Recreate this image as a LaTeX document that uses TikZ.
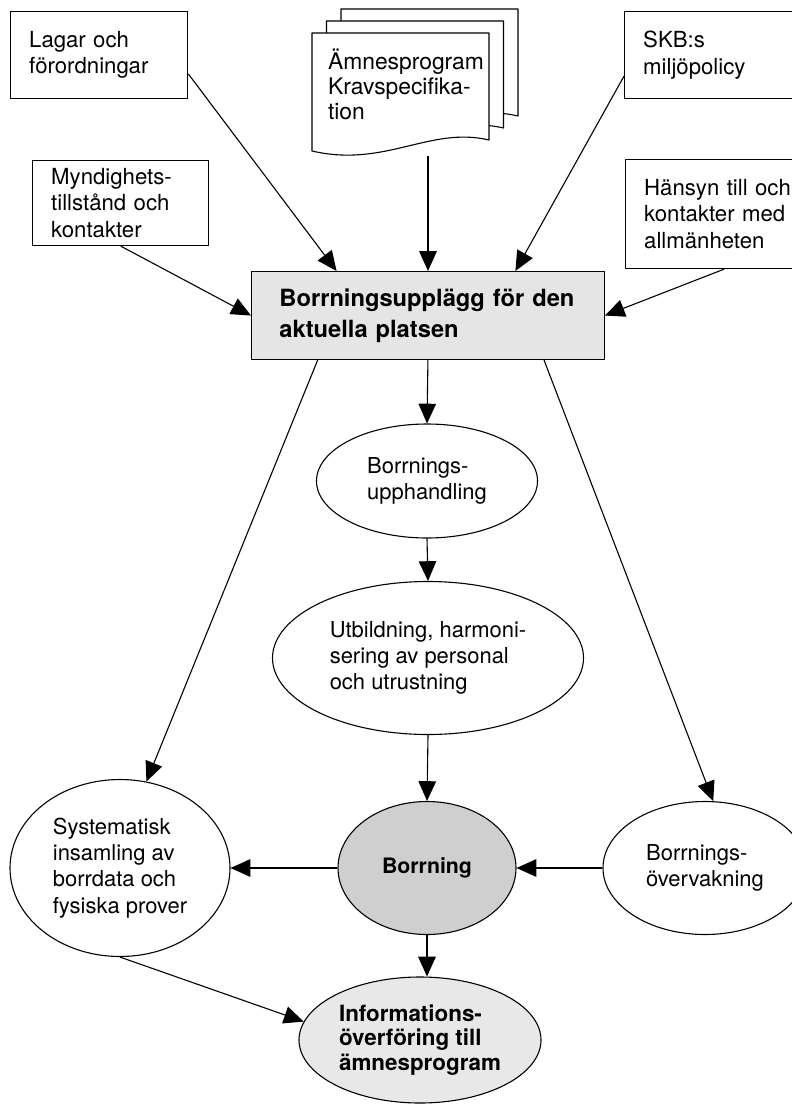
\documentclass[tikz,border=0pt]{standalone}
\usepackage{fontspec}
\setmainfont{TeX Gyre Heros}
\usetikzlibrary{arrows.meta,shapes.geometric}

\newcommand\pxu{0.016cm}
\tikzset{
  box/.style={draw, rectangle, anchor=north west, align=left, inner xsep=8.5pt,
    font=\fontsize{10.1}{12}\selectfont},
  oval/.style={draw, ellipse, inner sep=0pt, align=left,
    font=\fontsize{10}{12}\selectfont},
  boldoval/.style={oval, font=\fontsize{9.7}{11}\selectfont\bfseries},
  pil/.style={-{Triangle[length=9pt,width=8pt]}},
}

\begin{document}
\begin{tikzpicture}[x=\pxu, y=-\pxu, line width=0.5pt, line join=round]
  \useasboundingbox (0,0) rectangle (792,1107);

  % input boxes
  \node[box, text width=140*\pxu, minimum height=87*\pxu] (lagar) at (10,11)
    {Lagar och\\förordningar};
  \node[box, text width=139*\pxu, minimum height=85*\pxu] (myndig) at (32,160)
    {Myndighets-\\tillstånd och\\kontakter};
  \node[box, text width=160*\pxu, minimum height=87*\pxu] (skb) at (624,11)
    {SKB:s\\miljöpolicy};
  \node[box, text width=160*\pxu, minimum height=109*\pxu] (hansyn) at (625,159)
    {Hänsyn till och\\kontakter med\\allmänheten};

  % document stack
  \foreach \k in {2,1,0} {
    \begin{scope}[shift={(14.5*\k,-12*\k)}]
      \filldraw[fill=white] (312,33) -- (489,33) -- (489,140)
        .. controls (430,126) and (385,168) .. (312,151) -- cycle;
    \end{scope}
  }
  \node[align=left, font=\fontsize{10.4}{11.4}\selectfont] (doc) at (406,84)
    {Ämnesprogram\\Kravspecifika-\\tion};
  \coordinate (docfoot) at (428,156);

  % main planning box
  \node[box, fill=black!10, inner xsep=12.7pt, text width=297*\pxu,
    minimum height=88*\pxu, font=\fontsize{10.8}{14}\selectfont\bfseries] (plan) at (251,271)
    {Borrningsupplägg för den\\aktuella platsen};

  % process steps
  \node[oval, minimum width=221*\pxu, minimum height=114*\pxu] (upph) at (427,481)
    {Borrnings-\\upphandling};
  \node[oval, minimum width=311*\pxu, minimum height=153*\pxu] (utb) at (428,658)
    {Utbildning, harmoni-\\sering av personal\\och utrustning};
  \node[boldoval, fill=black!19, minimum width=178*\pxu, minimum height=133*\pxu] (borr) at (427,868)
    {Borrning};
  \node[oval, minimum width=220*\pxu, minimum height=177*\pxu] (syst) at (120,868)
    {Systematisk\\insamling av\\borrdata och\\fysiska prover};
  \node[oval, minimum width=204*\pxu, minimum height=133*\pxu] (overv) at (705,868)
    {Borrnings-\\övervakning};
  \node[boldoval, fill=black!9, minimum width=242*\pxu, minimum height=126*\pxu,
    font=\fontsize{10.2}{11}\selectfont\bfseries] (info) at (420,1040)
    {Informations-\\överföring till\\ämnesprogram};

  % connectors
  \draw[pil] (lagar.-12) -- (plan.154);
  \draw[pil] (docfoot) -- (docfoot |- plan.north);
  \draw[pil] (skb.192) -- (plan.27);
  \draw[pil] (myndig.south) -- (plan.west);
  \draw[pil] (hansyn.south) -- (plan.east);
  \draw[pil] (plan.south) -- (upph.north);
  \draw[pil] (upph.south) -- (utb.north);
  \draw[pil] (utb.south) -- (borr.north);
  \draw[pil] (plan.202) -- (syst.73);
  \draw[pil] (plan.-21) -- (overv.83);
  \draw[pil] (borr.west) -- (syst.east);
  \draw[pil] (overv.west) -- (borr.east);
  \draw[pil] (borr.south) -- (borr.south |- info.north);
  \draw[pil] (syst.south) -- (info.171);
\end{tikzpicture}
\end{document}
